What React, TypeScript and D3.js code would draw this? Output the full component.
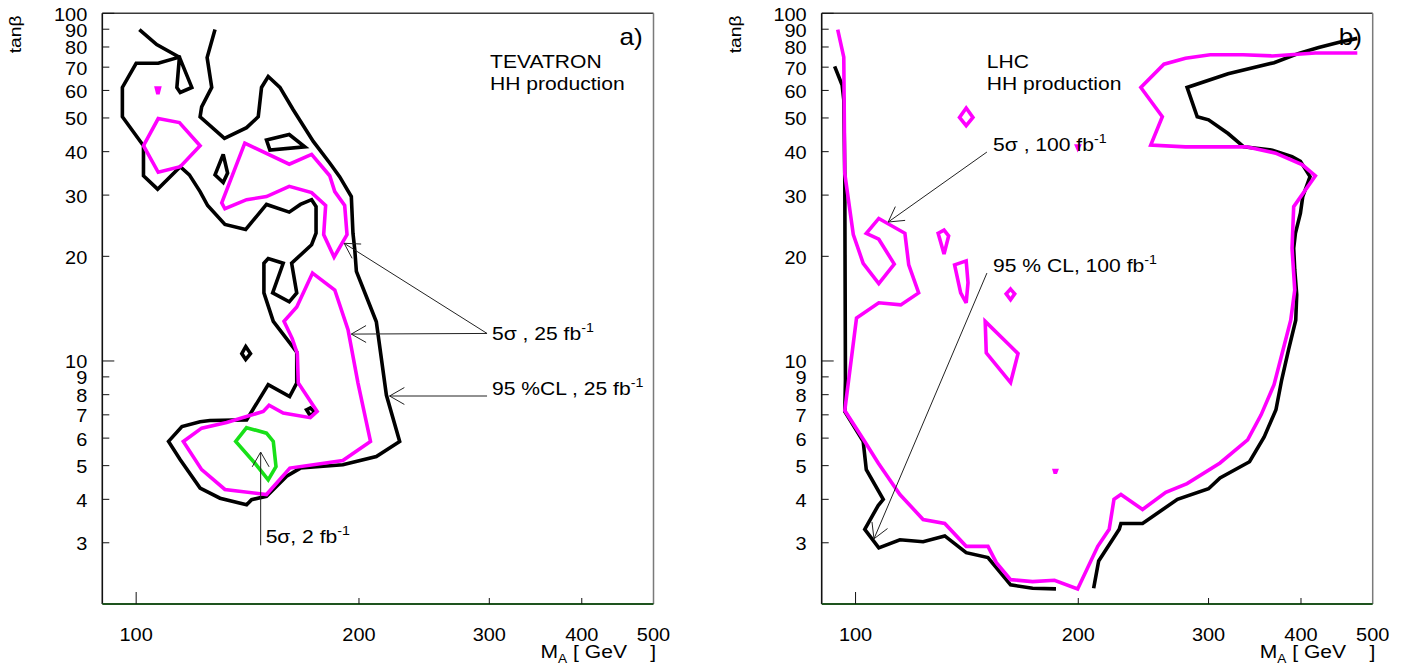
import React from "react";
import * as d3 from "d3";

type P = [number, number];

const xDomain: [number, number] = [90, 500];
const yDomain: [number, number] = [2, 100];
const xTicks = [100, 200, 300, 400, 500];
const xTickLabels = ["100", "200", "300", "400", "500"];
const yTicks = [3, 4, 5, 6, 7, 8, 9, 10, 20, 30, 40, 50, 60, 70, 80, 90, 100];
const yTickLabels = ["3", "4", "5", "6", "7", "8", "9", "10", "20", "30", "40", "50", "60", "70", "80", "90", "100"];

// ---------- panel a) TEVATRON ----------
const tev95Main: P[] = [
  [101, 89.8], [106.6, 81.3], [114.4, 74.8], [113.5, 61.2], [114.7, 59.2], [118.9, 61.2], [114.4, 74.8],
  [107.1, 71.8], [100, 71.8], [95.8, 61.2], [95.8, 50.4], [102.3, 41.6], [102.3, 34.1], [106.9, 31.2],
  [114.7, 36.2], [118, 34.3], [122, 30.7], [124.9, 28], [131.8, 24.7], [140.6, 23.9], [150, 28.2],
  [161, 26.8], [166.7, 28.2], [172.6, 29.1], [175, 27.8], [175, 23.3], [172.6, 21.6], [162.2, 19.1],
  [164.8, 15.7], [161, 14.8], [152.9, 15.7], [158, 19.1], [150.8, 19.7], [148.8, 19.1], [148.8, 15.7],
  [153.2, 13.0], [162.7, 11.0], [164.8, 10.6], [164.8, 8.64], [161.2, 7.9], [150.8, 8.55], [141, 6.77],
  [125.8, 6.74], [122, 6.69], [115.3, 6.48], [110.6, 5.87], [114.7, 5.2], [122, 4.31], [129.8, 4.03],
  [141, 3.86], [143.2, 3.99], [150, 4.08], [159.7, 4.66], [166.7, 4.92], [190.2, 5.03], [211.1, 5.31],
  [227, 5.87], [217.8, 7.98], [211.1, 12.97], [204.7, 15.3], [198.4, 18.1], [197.4, 20.9], [196.3, 23.3],
  [195.3, 29.7], [188.3, 33.9], [182.6, 37.1], [173.5, 42.8], [163, 52.8], [156.4, 61.2], [150.8, 65.8],
  [147.7, 61.2], [146.2, 50.4], [141, 46.9], [131.6, 43.7], [122, 50.4], [122.6, 53.8], [126.5, 61.2],
  [124.7, 74.6], [127.8, 89.8],
];
const tev95IslandA: P[] = [[127.8, 34.3], [131.1, 39.3], [132.9, 34.7], [131.1, 32.6]];
const tev95IslandB: P[] = [[150, 43.2], [161, 44.8], [169, 41.3], [151.6, 40.4]];
const tev95IslandC: P[] = [[140.6, 11.0], [142.7, 10.5], [140.6, 10.1], [138.9, 10.5]];
const tev95IslandD: P[] = [[169.9, 7.24], [171.9, 7.33], [174.3, 7.13], [171.9, 6.96]];

const tev5sDot: P[] = [[106.5, 61], [107.5, 61], [107, 58.6]];
const tev5sPentagon: P[] = [[107.1, 49.8], [114.4, 48.5], [122, 41.6], [114.7, 36.2], [107.1, 34.9], [102.3, 41.6]];
const tev5sUpper: P[] = [
  [140.2, 42.3], [161, 36.8], [172.6, 39.3], [182.6, 34.1], [185.5, 30.7], [191.3, 28], [192.7, 23.1],
  [185.1, 19.9], [179.2, 23.1], [180.3, 28], [172.6, 30.5], [161, 31.8], [150, 29.7], [141, 29.1],
  [131.8, 27.4], [130.5, 28.5],
];
const tev5sLower: P[] = [
  [173.1, 17.9], [185.5, 16], [193.3, 12.3], [199.4, 8.64], [207.3, 5.87], [190.2, 5.17], [161.3, 4.92],
  [150, 4.13], [131.8, 4.27], [122.6, 4.87], [115.8, 5.87], [122.6, 6.41], [132.5, 6.65], [148.5, 7.16],
  [151.2, 7.46], [158, 7.08], [171.9, 6.87], [175.6, 7.16], [165.6, 8.64], [165.1, 10.5], [162.5, 11.6],
  [158.4, 13], [164.8, 14.3],
];
const tev5s2fb: P[] = [[141, 6.43], [150, 6.2], [153.2, 5.87], [154.5, 4.97], [150.8, 4.55], [144.6, 5.09], [136.3, 5.87]];

// ---------- panel b) LHC ----------
const lhc95Left: P[] = [
  [93.7, 70.4], [95.9, 62.2], [96.4, 56.4], [96.7, 34.3], [96.9, 8.83], [96.7, 7.16], [102.4, 5.87],
  [103.4, 4.87], [109, 4.0], [107.3, 3.84], [102.9, 3.28], [107.5, 2.9], [114.8, 3.06], [123.4, 3.02],
  [132, 3.14], [141.1, 2.81], [151, 2.72], [162, 2.27], [173.5, 2.22], [186.6, 2.21],
];
const lhc95Right: P[] = [
  [209.8, 2.22], [213.1, 2.66], [227.2, 3.28], [228.4, 3.41], [244.3, 3.41], [272.3, 4.0], [300, 4.29],
  [310.9, 4.61], [340.8, 5.13], [356.7, 6.05], [370, 7.24], [376.7, 8.83], [384.9, 10.8], [393.5, 13.1],
  [394.7, 15.5], [392.3, 18.3], [391, 21.1], [393.1, 23.3], [399.3, 26.6], [402.2, 29.7], [411.4, 33.9],
  [399.3, 37.5], [389, 38.7], [365.9, 40.4], [334.7, 41.3], [318.8, 45.1], [300, 49.4], [289.6, 50.4],
  [280.6, 61.2], [318.8, 67], [367.8, 72.1], [397.2, 76.7], [422.6, 79.7], [453.3, 82.8], [476.6, 84.7],
];
const lhc5sMain: P[] = [
  [94.6, 89.8], [96.4, 74.8], [96.7, 34.6], [99.3, 23.1], [102.4, 19.1], [107.5, 16.7], [112.8, 19],
  [107.5, 22.4], [103.4, 23.3], [107.5, 25.7], [116.6, 23.3], [118, 18.9], [121.7, 15.7], [115.1, 14.5],
  [107.5, 14.7], [100.3, 13.3], [96.7, 7.2], [102.9, 5.87], [107.3, 5.09], [109.5, 4.78], [114.8, 4.13],
  [123.4, 3.5], [132, 3.41], [141.1, 2.93], [151, 2.93], [155, 2.63], [162, 2.35], [173.5, 2.32],
  [185.7, 2.34], [199.6, 2.21], [212.5, 2.93], [220.2, 3.28], [223.5, 4.0], [228.4, 4.13], [244.3, 3.74],
  [262.6, 4.19], [280.6, 4.44], [310.9, 5.09], [338.8, 5.93], [353.3, 7.0], [367.8, 8.55], [376.7, 10.4],
  [387.4, 13.1], [392.3, 16], [389, 21.1], [391, 27.8], [418.3, 34.1], [401.3, 36.7], [369.6, 39.6],
  [337.4, 41.3], [301.5, 41.3], [279.2, 41.3], [250.6, 41.8], [259.8, 50.4], [243, 61.2], [261.1, 71.4],
  [279.2, 74.3], [301.5, 76], [334, 76], [365.9, 75.4], [418.3, 76.9], [476.6, 76.9],
];
const lhc5sIslandA: P[] = [[141.1, 53.4], [144.1, 50.2], [141.1, 47.5], [138.2, 50.2]];
const lhc5sIslandB: P[] = [[199.1, 41.5], [200.4, 41.5], [199.7, 40.9]];
const lhc5sIslandC: P[] = [[129.3, 23.3], [131.7, 23.8], [133.6, 22.9], [131.7, 20.3]];
const lhc5sIslandD: P[] = [[136.1, 18.9], [141.1, 19.4], [141.9, 16.8], [141.1, 14.7], [138.7, 15.7]];
const lhc5sIslandE: P[] = [[162, 16.1], [164.1, 15.6], [162, 15.0], [159.8, 15.6]];
const lhc5sIslandF: P[] = [[149.7, 13], [161.5, 11.1], [165.8, 10.5], [162, 8.67], [150.2, 10.55]];
const lhc5sIslandG: P[] = [[185.7, 4.84], [186.8, 4.84], [186.2, 4.75]];

// ---------- annotations (data coordinates) ----------
const tevArrows: { from: P; to: P }[] = [
  { from: [297.9, 12.0], to: [191, 21.8] },
  { from: [297.9, 12.0], to: [195.3, 11.95] },
  { from: [297.9, 7.93], to: [220, 7.93] },
  { from: [147.3, 2.95], to: [147.3, 5.47] },
];
const tevLabels = [
  { at: [302.5, 11.5] as P, text: "5σ , 25 fb", sup: "-1" },
  { at: [302.5, 8.0] as P, text: "95 %CL , 25 fb", sup: "-1" },
  { at: [149.6, 2.99] as P, text: "5σ, 2 fb", sup: "-1" },
];
const lhcArrows: { from: P; to: P }[] = [
  { from: [150.5, 39.9], to: [110.7, 25.1] },
  { from: [150.5, 17.9], to: [105.9, 3.08] },
];
const lhcLabels = [
  { at: [153.4, 40.2] as P, text: "5σ , 100 fb", sup: "-1" },
  { at: [153.4, 18.06] as P, text: "95 % CL, 100 fb", sup: "-1" },
];

const BLACK = "#000000";
const MAGENTA = "#ff00ff";
const GREEN = "#18e018";
const FONT = "'Liberation Sans', Arial, Helvetica, sans-serif";
const SX = 1.14;

type Contour = { pts: P[]; color: string; closed: boolean };

const tevContours: Contour[] = [
  { pts: tev95Main, color: BLACK, closed: false },
  { pts: tev95IslandA, color: BLACK, closed: true },
  { pts: tev95IslandB, color: BLACK, closed: true },
  { pts: tev95IslandC, color: BLACK, closed: true },
  { pts: tev95IslandD, color: BLACK, closed: true },
  { pts: tev5sDot, color: MAGENTA, closed: true },
  { pts: tev5sPentagon, color: MAGENTA, closed: true },
  { pts: tev5sUpper, color: MAGENTA, closed: true },
  { pts: tev5sLower, color: MAGENTA, closed: true },
  { pts: tev5s2fb, color: GREEN, closed: true },
];
const lhcContours: Contour[] = [
  { pts: lhc95Left, color: BLACK, closed: false },
  { pts: lhc95Right, color: BLACK, closed: false },
  { pts: lhc5sMain, color: MAGENTA, closed: false },
  { pts: lhc5sIslandA, color: MAGENTA, closed: true },
  { pts: lhc5sIslandB, color: MAGENTA, closed: true },
  { pts: lhc5sIslandC, color: MAGENTA, closed: true },
  { pts: lhc5sIslandD, color: MAGENTA, closed: true },
  { pts: lhc5sIslandE, color: MAGENTA, closed: true },
  { pts: lhc5sIslandF, color: MAGENTA, closed: true },
  { pts: lhc5sIslandG, color: MAGENTA, closed: true },
];

function SText(props: {
  x: number; y: number; size: number; anchor?: string; children: React.ReactNode; rotate?: number;
}) {
  const { x, y, size, anchor = "start", children, rotate = 0 } = props;
  return (
    <text
      transform={`translate(${x},${y}) rotate(${rotate}) scale(${SX},1)`}
      fontSize={size}
      textAnchor={anchor}
      fontFamily={FONT}
      fill="#000"
      style={{ whiteSpace: "pre" }}
    >
      {children}
    </text>
  );
}

function Panel(props: {
  left: number; right: number; top: number; bottom: number;
  contours: Contour[]; arrows: { from: P; to: P }[];
  labels: { at: P; text: string; sup: string }[];
  tag: string; title1: string; title2: string; titleX: number;
}) {
  const { left, right, top, bottom, contours, arrows, labels, tag, title1, title2, titleX } = props;
  const x = d3.scaleLog().domain(xDomain).range([left, right]);
  const y = d3.scaleLog().domain(yDomain).range([bottom, top]);
  const open = d3.line<P>().x((d) => x(d[0])).y((d) => y(d[1]));
  const closed = d3.line<P>().x((d) => x(d[0])).y((d) => y(d[1])).curve(d3.curveLinearClosed);

  const head = (from: P, to: P) => {
    const tx = x(to[0]), ty = y(to[1]);
    const fx = x(from[0]), fy = y(from[1]);
    const a = Math.atan2(fy - ty, fx - tx);
    const L = 17, w = 0.52;
    return `M${tx + L * Math.cos(a + w)},${ty + L * Math.sin(a + w)}L${tx},${ty}L${tx + L * Math.cos(a - w)},${ty + L * Math.sin(a - w)}`;
  };

  return (
    <g>
      {contours.map((c, i) => (
        <path key={i} d={(c.closed ? closed : open)(c.pts) || ""} fill="none" stroke={c.color}
          strokeWidth={3.6} strokeLinejoin="miter" strokeMiterlimit={3} />
      ))}
      {/* frame */}
      <line x1={left} x2={right} y1={top} y2={top} stroke="#3a3a3a" strokeWidth={1.5} />
      <line x1={right} x2={right} y1={top} y2={bottom} stroke="#7a7a7a" strokeWidth={1.5} />
      <line x1={left} x2={left} y1={top} y2={bottom} stroke="#111" strokeWidth={1.6} />
      <line x1={left} x2={right} y1={bottom} y2={bottom} stroke="#1e531e" strokeWidth={2} />
      {/* y ticks */}
      {yTicks.map((t, i) => {
        const len = t === 10 || t === 100 ? 12 : 7;
        return (
          <g key={"yt" + i}>
            <line x1={left} x2={left + len} y1={y(t)} y2={y(t)} stroke="#111" strokeWidth={1} />
            <SText x={left - 15} y={y(t) + 7.5} size={17.5} anchor="end">{yTickLabels[i]}</SText>
          </g>
        );
      })}
      {/* x ticks */}
      {xTicks.map((t, i) => {
        const len = t === 100 ? 12 : 6;
        return (
          <g key={"xt" + i}>
            {t !== 500 && <line x1={x(t)} x2={x(t)} y1={bottom} y2={bottom - len} stroke="#111" strokeWidth={1} />}
            <SText x={x(t)} y={bottom + 37} size={17.5} anchor="middle">{xTickLabels[i]}</SText>
          </g>
        );
      })}
      {/* axis titles */}
      <SText x={left - 81} y={top + 21} size={17} anchor="middle" rotate={-90}>tanβ</SText>
      <text transform={`translate(${right - 113},${bottom + 54}) scale(${SX},1)`} fontFamily={FONT} fontSize={18.5} style={{ whiteSpace: "pre" }}>
        M<tspan fontSize={12} dy={5}>A</tspan><tspan dy={-5}>{" [ GeV    ]"}</tspan>
      </text>
      {/* titles */}
      <SText x={titleX} y={top + 55} size={18.5}>{title1}</SText>
      <SText x={titleX} y={top + 77} size={18.5}>{title2}</SText>
      <SText x={right - 34} y={top + 32} size={23}>{tag}</SText>
      {/* annotation arrows */}
      {arrows.map((a, i) => (
        <g key={"ar" + i}>
          <line x1={x(a.from[0])} y1={y(a.from[1])} x2={x(a.to[0])} y2={y(a.to[1])} stroke="#222" strokeWidth={1} />
          <path d={head(a.from, a.to)} fill="none" stroke="#222" strokeWidth={1} />
        </g>
      ))}
      {labels.map((l, i) => (
        <text key={"lb" + i} transform={`translate(${x(l.at[0])},${y(l.at[1])}) scale(${SX},1)`}
          fontFamily={FONT} fontSize={18.5} style={{ whiteSpace: "pre" }}>
          {l.text}<tspan fontSize={12.5} dy={-8}>{l.sup}</tspan>
        </text>
      ))}
    </g>
  );
}

export default function App() {
  return (
    <svg width={1406} height={665} style={{ position: "absolute", left: 0, top: 0, display: "block", background: "#fff" }}>
      <rect x={0} y={0} width={1406} height={665} fill="#fff" />
      <Panel left={102.3} right={653.5} top={13.3} bottom={604} contours={tevContours}
        arrows={tevArrows} labels={tevLabels} tag="a)" title1="TEVATRON" title2="HH production" titleX={490} />
      <Panel left={821.7} right={1372.7} top={13.3} bottom={604} contours={lhcContours}
        arrows={lhcArrows} labels={lhcLabels} tag="b)" title1="LHC" title2="HH production" titleX={986.7} />
    </svg>
  );
}
